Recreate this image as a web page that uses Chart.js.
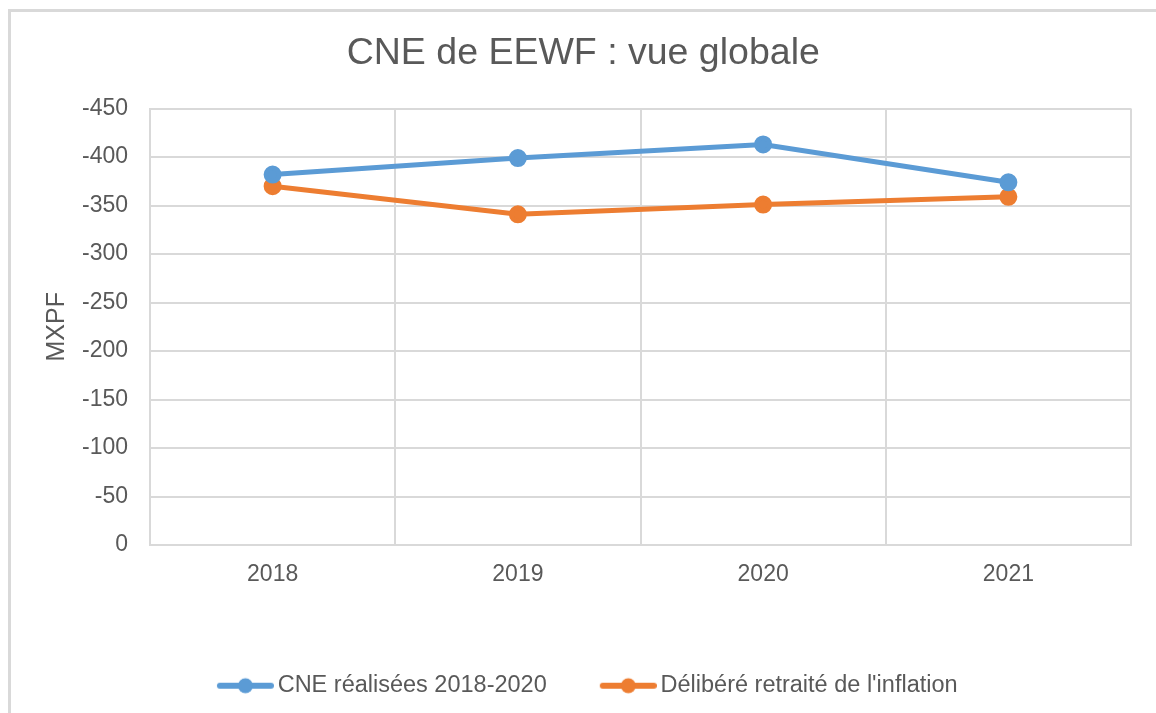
<!DOCTYPE html>
<html lang="fr">
<head>
<meta charset="utf-8">
<title>CNE de EEWF : vue globale</title>
<script src="https://cdn.jsdelivr.net/npm/chart.js@4"></script>
<style>
  html, body { margin: 0; padding: 0; background: #fff; }
  canvas { display: block; }
</style>
</head>
<body>
<canvas id="myChart" width="1156" height="713"></canvas>
<script>
const years = ["2018", "2019", "2020", "2021"];
const cneRealisees = [-382, -399, -413, -374];
const delibereRetraite = [-370, -341, -351, -359];
const seriesNames = ["CNE réalisées 2018-2020", "Délibéré retraité de l'inflation"];
const seriesColors = ["#5b9bd5", "#ed7d31"];
const yMin = -450;
const yMax = 0;
const yStep = 50;

const fontFamily = "'Liberation Sans', Arial, sans-serif";
const textColor = "#595959";
const gridColor = "#d9d9d9";

// little line + dot icon, like the Excel legend
const makeLegendIcon = (color) => {
  const icon = document.createElement("canvas");
  icon.width = 73;
  icon.height = 20;
  const c = icon.getContext("2d");
  c.strokeStyle = color;
  c.lineWidth = 6;
  c.lineCap = "round";
  c.beginPath();
  c.moveTo(19, 10);
  c.lineTo(70, 10);
  c.stroke();
  c.fillStyle = color;
  c.beginPath();
  c.arc(44.5, 10, 7.5, 0, Math.PI * 2);
  c.fill();
  return icon;
};
const legendIcons = seriesColors.map(makeLegendIcon);

const outerBorder = {
  id: "outerBorder",
  beforeDraw(chart) {
    const c = chart.ctx;
    c.save();
    c.fillStyle = "#fff";
    c.fillRect(0, 0, chart.width, chart.height);
    c.strokeStyle = gridColor;
    c.lineWidth = 3;
    c.strokeRect(9.5, 10.5, 2000, 2000);
    c.restore();
  },
};

const ctx = document.getElementById("myChart");

new Chart(ctx, {
  type: "line",
  data: {
    labels: years,
    datasets: [
      {
        label: seriesNames[0],
        data: cneRealisees,
        borderColor: seriesColors[0],
        backgroundColor: seriesColors[0],
        borderWidth: 5,
        pointRadius: 6.5,
        pointHoverRadius: 6.5,
        tension: 0,
      },
      {
        label: seriesNames[1],
        data: delibereRetraite,
        borderColor: seriesColors[1],
        backgroundColor: seriesColors[1],
        borderWidth: 5,
        pointRadius: 6.5,
        pointHoverRadius: 6.5,
        tension: 0,
      },
    ],
  },
  options: {
    responsive: false,
    animation: false,
    layout: {
      padding: { left: 35.5, right: 25, top: 0, bottom: 5.5 },
    },
    scales: {
      x: {
        offset: true,
        grid: { offset: true, color: gridColor, lineWidth: 2, drawTicks: false },
        border: { color: gridColor, width: 2 },
        ticks: {
          color: textColor,
          padding: 16,
          font: { family: fontFamily, size: 23 },
        },
        afterFit: (scale) => {
          scale.height = 84;
        },
      },
      y: {
        reverse: true,
        min: yMin,
        max: yMax,
        grid: { color: gridColor, lineWidth: 2, drawTicks: false },
        border: { color: gridColor, width: 2 },
        ticks: {
          stepSize: yStep,
          color: textColor,
          padding: 22,
          font: { family: fontFamily, size: 23 },
        },
        title: {
          display: true,
          text: "MXPF",
          color: textColor,
          padding: { top: 6.5, bottom: 0 },
          font: { family: fontFamily, size: 25 },
        },
        afterFit: (scale) => {
          scale.width = 114.5;
        },
      },
    },
    plugins: {
      title: {
        display: true,
        text: "CNE de EEWF : vue globale",
        color: textColor,
        padding: { top: 31.5, bottom: 32.1 },
        font: { family: fontFamily, size: 37.5, weight: "normal" },
      },
      legend: {
        position: "bottom",
        labels: {
          usePointStyle: true,
          pointStyleWidth: 57,
          padding: 45,
          color: textColor,
          font: { family: fontFamily, size: 23.5 },
          generateLabels: (chart) => {
            const items = Chart.defaults.plugins.legend.labels.generateLabels(chart);
            items.forEach((item) => {
              item.pointStyle = legendIcons[item.datasetIndex];
            });
            return items;
          },
        },
      },
      tooltip: { enabled: false },
    },
  },
  plugins: [outerBorder],
});
</script>
</body>
</html>
